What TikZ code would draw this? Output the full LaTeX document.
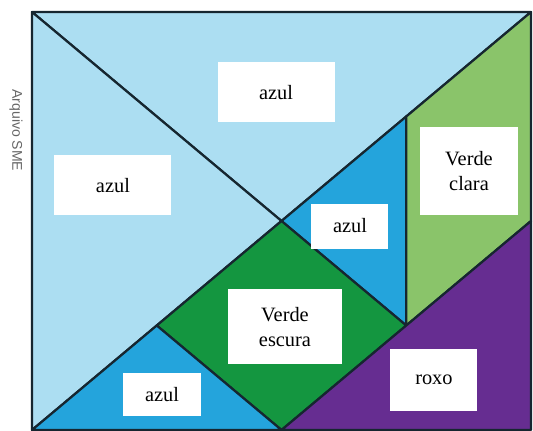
\documentclass[tikz,border=0pt]{standalone}
\usepackage{fontspec}
\setmainfont{Liberation Serif}
\newfontfamily\credfont{Liberation Sans}
\usepackage{tikz}
\usetikzlibrary{positioning}

\definecolor{azulclaro}{RGB}{172,222,242}
\definecolor{azulmedio}{RGB}{36,164,220}
\definecolor{verdeclaro}{RGB}{138,196,106}
\definecolor{verdeescuro}{RGB}{20,150,64}
\definecolor{roxo}{RGB}{102,45,145}
\definecolor{contorno}{RGB}{22,38,48}

\begin{document}
\begin{tikzpicture}[piece/.style={draw=contorno,line width=1.9pt,line join=round},
      rotulo/.style={fill=white,inner sep=0pt,align=center,font=\fontsize{17.4}{21}\selectfont}]
      \useasboundingbox (0,0) rectangle (15.99,12.9);
      \node[font=\credfont\fontsize{12}{14}\selectfont,text=black!60,rotate=-90] (cred) at (0.48,8.99) {Arquivo SME};

      \begin{scope}[shift={(0.96,0)},x=3.7425cm,y=3.135cm]
      \coordinate (bl) at (0,0);
      \coordinate (br) at (4,0);
      \coordinate (tr) at (4,4);
      \coordinate (tl) at (0,4);
      \coordinate (c) at (2,2);
      \coordinate (p1) at (3,3);
      \coordinate (p2) at (1,1);
      \coordinate (m) at (2,0);
      \coordinate (q) at (3,1);
      \coordinate (r) at (4,2);

      % pecas
      \filldraw[piece,fill=azulclaro] (tl) -- (tr) -- (c) -- cycle;
      \filldraw[piece,fill=azulclaro] (tl) -- (c) -- (bl) -- cycle;
      \filldraw[piece,fill=azulmedio] (c) -- (p1) -- (q) -- cycle;
      \filldraw[piece,fill=verdeclaro] (p1) -- (tr) -- (r) -- (q) -- cycle;
      \filldraw[piece,fill=verdeescuro] (c) -- (q) -- (m) -- (p2) -- cycle;
      \filldraw[piece,fill=azulmedio] (bl) -- (p2) -- (m) -- cycle;
      \filldraw[piece,fill=roxo] (m) -- (br) -- (r) -- cycle;

      % rotulos
      \node[rotulo,minimum width=3.51cm,minimum height=1.8cm] (azulA) at (1.956,3.234) {azul};
      \node[rotulo,minimum width=3.51cm,minimum height=1.8cm] (azulB) at (0.649,2.344) {azul};
      \node[rotulo,minimum width=2.94cm,minimum height=2.64cm] (vclara) at (3.503,2.478) {Verde\\clara};
      \node[rotulo,minimum width=2.31cm,minimum height=1.35cm] (azulC) at (2.549,1.952) {azul};
      \node[rotulo,minimum width=3.42cm,minimum height=2.25cm] (vescura) at (2.028,0.986) {Verde\\escura};
      \node[rotulo,minimum width=2.34cm,minimum height=1.29cm] (azulD) at (1.042,0.344) {azul};
      \node[rotulo,minimum width=2.61cm,minimum height=1.86cm] (roxo) at (3.222,0.478) {roxo};
      \end{scope}
    \end{tikzpicture}
\end{document}
